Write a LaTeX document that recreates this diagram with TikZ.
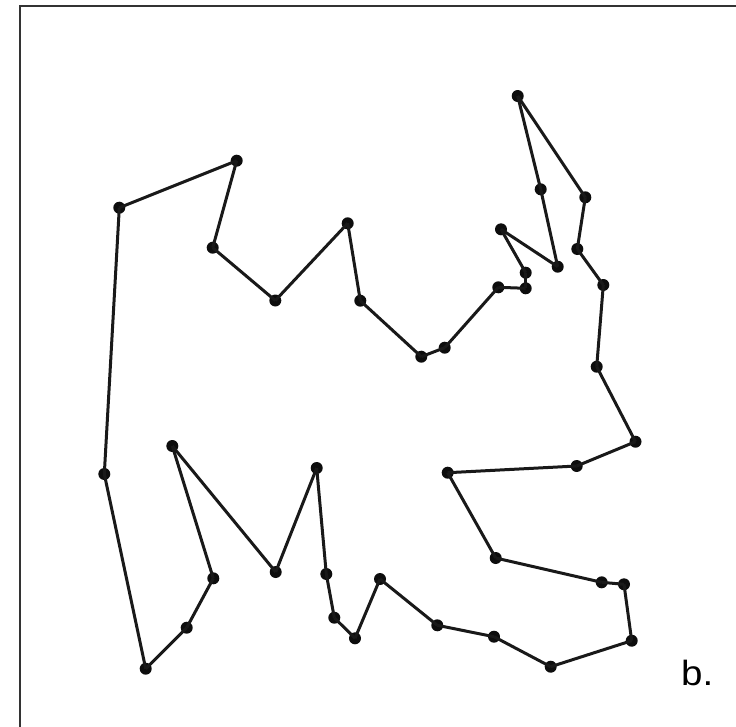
\documentclass[tikz,border=0pt]{standalone}
\usepackage{fontspec}
\setmainfont{Liberation Sans}
\usepackage{tikz}

\tikzset{
  vertex/.style={circle,fill=black!95,inner sep=0pt,minimum size=12pt},
  tour/.style={line width=3pt,black!90},
}

\begin{document}
\begin{tikzpicture}[x=1pt,y=-1pt]
  \useasboundingbox (0,0) rectangle (736,726);
  % frame, cut off at the right and bottom
  \draw[line width=2.6pt,black!80] (20,740) -- (20,6) -- (750,6);
  \foreach \n/\x/\y in {1/517.7/96,2/540.7/189.3,3/557.7/266.7,4/501/229.3,5/525.7/272.7,
      6/525.7/288.3,7/498.3/287.3,8/444.7/347.7,9/421.3/356.7,10/360.3/300.7,
      11/347.7/223.3,12/275.3/300.5,13/212.7/247.7,14/236.7/160.7,15/119.3/207.7,
      16/104.3/474,17/145.7/668.7,18/186.7/627.7,19/213.3/578.3,20/172.3/446,
      21/275.7/572,22/316.7/468,23/326.3/574,24/334.3/617.7,25/355/638.3,
      26/380/579,27/437.3/625.3,28/494/636.7,29/550.7/666.7,30/631.7/640.7,
      31/624/584.3,32/601.7/582.3,33/495.7/558,34/447.7/472.7,35/576.7/466,
      36/635.5/441.7,37/596.7/366.7,38/603.3/285,39/577.3/249,40/585.3/197.3} {
    \node[vertex] (p\n) at (\x,\y) {};
  }
  \foreach \a [evaluate=\a as \b using {int(mod(\a,40)+1)}] in {1,...,40} {
    \draw[tour] (p\a.center) -- (p\b.center);
  }
  \node[font=\fontsize{35}{40}\selectfont,anchor=base west,inner sep=0pt] (lbl) at (681,685.7) {\scalebox{1.1}[1]{b.}};
\end{tikzpicture}
\end{document}
